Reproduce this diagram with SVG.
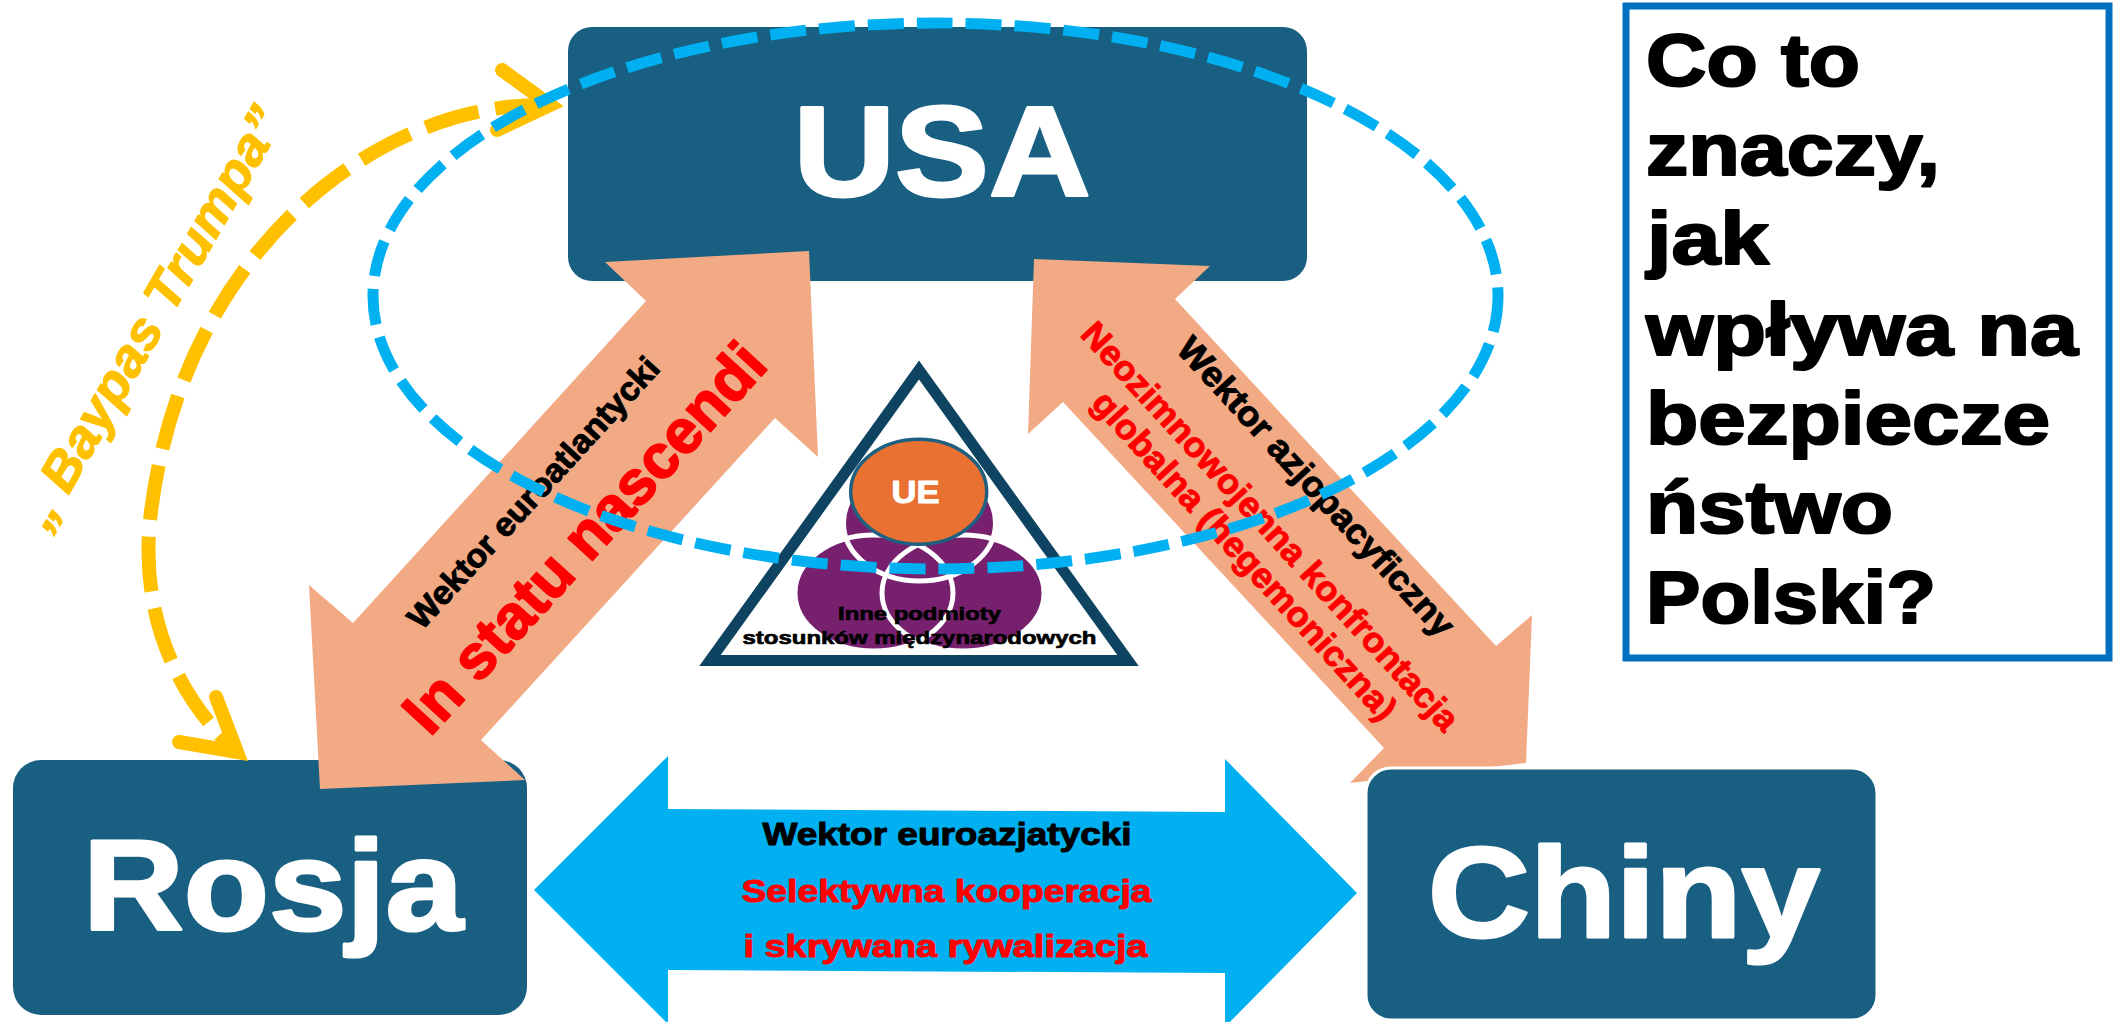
<svg xmlns="http://www.w3.org/2000/svg" width="2123" height="1022" viewBox="0 0 2123 1022">
<defs>
<style>
.box{fill:#185F82;}
.boxtxt{font-family:"Liberation Sans",Arial,sans-serif;font-weight:bold;font-size:128px;fill:#FFFFFF;stroke:#FFFFFF;stroke-width:3;stroke-linejoin:round;}
.b{font-family:"Liberation Sans",Arial,sans-serif;font-weight:bold;stroke-linejoin:round;}
.salmon{fill:#F2AA84;}
.blk{fill:#000000;stroke:#000000;stroke-width:1;}
.red{fill:#FF0000;stroke:#FF0000;stroke-width:1;}
.q{font-family:"Liberation Sans",Arial,sans-serif;font-weight:bold;font-size:75px;fill:#000000;stroke:#000000;stroke-width:2.2;stroke-linejoin:round;}
.purple{fill:#77206E;}
.wline{fill:none;stroke:#FFFFFF;stroke-width:5;}
.yel{fill:none;stroke:#FFC000;stroke-width:14;}
</style>
</defs>
<rect width="2123" height="1022" fill="#FFFFFF"/>

<g id="usa">
<rect class="box" x="568" y="27" width="739" height="254" rx="24"/>
<text class="boxtxt" x="942" y="196" text-anchor="middle" textLength="297" lengthAdjust="spacingAndGlyphs">USA</text>
</g>

<g id="rosja">
<rect class="box" x="13" y="760" width="514" height="255" rx="28"/>
<text class="boxtxt" x="273" y="930" text-anchor="middle" textLength="380" lengthAdjust="spacingAndGlyphs">Rosja</text>
</g>

<g id="connectors">
<g id="vector-euroatlantic">
<polygon class="salmon" points="809,251 818,457 775,418 481,740 525,780 320,789 309,585 353,623 646,301 605,262"/>
<text class="b blk" font-size="33" text-anchor="middle" textLength="355" lengthAdjust="spacingAndGlyphs" transform="translate(541.7,500.4) rotate(-47.5)">Wektor euroatlantycki</text>
<text class="b red" font-size="62" text-anchor="middle" textLength="503" lengthAdjust="spacingAndGlyphs" transform="translate(600,552) rotate(-47.5)" style="stroke-width:1.8">In statu nascendi</text>
</g>
<g id="vector-asia-pacific">
<polygon class="salmon" points="1034,259 1210,266 1175,299 1496,646 1532,615 1526,763 1350,783 1384,748 1063,402 1028,434"/>
<text class="b blk" font-size="35" text-anchor="middle" textLength="392" lengthAdjust="spacingAndGlyphs" transform="translate(1307.4,494.8) rotate(47.5)">Wektor azjopacyficzny</text>
<text class="b red" font-size="35" text-anchor="middle" textLength="540" lengthAdjust="spacingAndGlyphs" transform="translate(1261.5,534.3) rotate(47.5)">Neozimnowojenna konfrontacja</text>
<text class="b red" font-size="35" text-anchor="middle" textLength="432" lengthAdjust="spacingAndGlyphs" transform="translate(1235.9,563.5) rotate(47.5)">globalna (hegemoniczna)</text>
</g>
<g id="vector-euroasian">
<polygon fill="#00B0F0" points="534,890 668,756 668,809 1225,812 1225,759 1357,893 1225,1027 1225,973 668,970 668,1024"/>
<text class="b blk" font-size="32" x="947" y="845" text-anchor="middle" textLength="369" lengthAdjust="spacingAndGlyphs">Wektor euroazjatycki</text>
<text class="b red" font-size="32" x="946.5" y="902" text-anchor="middle" textLength="410" lengthAdjust="spacingAndGlyphs">Selektywna kooperacja</text>
<text class="b red" font-size="32" x="945.5" y="957" text-anchor="middle" textLength="404" lengthAdjust="spacingAndGlyphs">i skrywana rywalizacja</text>
</g>
<g id="baypas">
<path class="yel" stroke-dasharray="55 17" d="M 550 105 C 380 100, 180 250, 150 520 C 140 620, 180 700, 237 752"/>
<polyline class="yel" stroke-linecap="round" stroke-linejoin="miter" points="502,70 550,105 497,130"/>
<polyline class="yel" stroke-linecap="round" stroke-linejoin="miter" points="216,697 237,752 179,742"/>
<text class="b" fill="#FFC000" stroke="#FFC000" stroke-width="1.2" font-style="italic" font-size="52" text-anchor="middle" textLength="476" lengthAdjust="spacingAndGlyphs" transform="translate(166,326) rotate(-60)">„ Baypas Trumpa”</text>
</g>
</g>

<g id="chiny">
<rect class="box" x="1366" y="768" width="511" height="252" rx="25" stroke="#FFFFFF" stroke-width="3"/>
<text class="boxtxt" x="1624" y="937" text-anchor="middle" textLength="392" lengthAdjust="spacingAndGlyphs">Chiny</text>
</g>

<g id="inne-podmioty">
<polygon points="919,370 710,660.5 1128,660.5" fill="#FFFFFF" stroke="#0E4461" stroke-width="11" stroke-linejoin="miter"/>
<ellipse class="purple" cx="874" cy="593" rx="79" ry="58"/>
<ellipse class="purple" cx="963" cy="593" rx="81" ry="58"/>
<ellipse class="purple" cx="919.5" cy="523" rx="76" ry="58"/>
<ellipse class="wline" cx="874" cy="593" rx="79" ry="58"/>
<ellipse class="wline" cx="963" cy="593" rx="81" ry="58"/>
<ellipse class="wline" cx="919.5" cy="523" rx="76" ry="58"/>
<text class="b blk" font-size="19" x="919.5" y="620" text-anchor="middle" textLength="163" lengthAdjust="spacingAndGlyphs" style="stroke-width:0.7">Inne podmioty</text>
<text class="b blk" font-size="19" x="919.5" y="644" text-anchor="middle" textLength="354" lengthAdjust="spacingAndGlyphs" style="stroke-width:0.7">stosunków międzynarodowych</text>
</g>

<g id="ue">
<ellipse cx="918.7" cy="491.7" rx="68" ry="52.5" fill="#E97132" stroke="#1F5F80" stroke-width="3.5"/>
<text class="b" fill="#FFFFFF" stroke="#FFFFFF" stroke-width="1" font-size="32" x="915.5" y="503" text-anchor="middle" textLength="48" lengthAdjust="spacingAndGlyphs">UE</text>
</g>

<g id="pytanie">
<rect x="1626" y="6" width="483" height="652" fill="#FFFFFF" stroke="#0070C0" stroke-width="7"/>
<text class="q" x="1646" y="86" textLength="214" lengthAdjust="spacingAndGlyphs">Co to</text>
<text class="q" x="1646" y="175" textLength="294" lengthAdjust="spacingAndGlyphs">znaczy,</text>
<text class="q" x="1647" y="264" textLength="122" lengthAdjust="spacingAndGlyphs">jak</text>
<text class="q" x="1646" y="355" textLength="432" lengthAdjust="spacingAndGlyphs">wpływa na</text>
<text class="q" x="1646" y="444" textLength="404" lengthAdjust="spacingAndGlyphs">bezpiecze</text>
<text class="q" x="1646" y="533" textLength="247" lengthAdjust="spacingAndGlyphs">ństwo</text>
<text class="q" x="1646" y="623" textLength="290" lengthAdjust="spacingAndGlyphs">Polski?</text>
</g>

<g id="obszar-wplywu">
<ellipse cx="935.5" cy="296" rx="562.5" ry="273" fill="none" stroke="#00B0F0" stroke-width="11" stroke-dasharray="36 13"/>
</g>
</svg>
